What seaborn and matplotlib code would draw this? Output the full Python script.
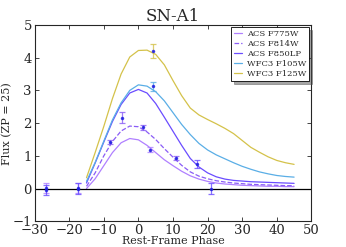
import numpy as np
import pandas as pd
import matplotlib
matplotlib.use("Agg")
import matplotlib.pyplot as plt
from matplotlib.lines import Line2D
import seaborn as sns

# model light curves
phase = [-15, -12.5, -10, -7.5, -5, -2.5, 0, 2.5, 5, 7.5, 10, 12.5, 15,
         17.5, 20, 22.5, 25, 27.5, 30, 32.5, 35, 37.5, 40, 42.5, 45]
f775w = [0.00, 0.30, 0.70, 1.10, 1.40, 1.53, 1.49, 1.32, 1.10, 0.88, 0.70, 0.53, 0.39,
         0.29, 0.22, 0.17, 0.14, 0.12, 0.10, 0.09, 0.08, 0.07, 0.07, 0.06, 0.06]
f814w = [0.07, 0.48, 1.00, 1.44, 1.76, 1.91, 1.89, 1.73, 1.50, 1.22, 0.96, 0.71, 0.51,
         0.38, 0.30, 0.24, 0.20, 0.17, 0.15, 0.13, 0.12, 0.11, 0.10, 0.09, 0.09]
f850lp = [0.17, 0.78, 1.42, 2.05, 2.57, 2.92, 3.03, 2.92, 2.60, 2.18, 1.75, 1.32, 0.92,
          0.66, 0.48, 0.36, 0.29, 0.25, 0.23, 0.21, 0.20, 0.19, 0.18, 0.17, 0.16]
f105w = [0.22, 0.80, 1.45, 2.10, 2.62, 3.00, 3.17, 3.13, 2.96, 2.68, 2.32, 1.96, 1.65,
         1.38, 1.18, 1.03, 0.91, 0.79, 0.68, 0.59, 0.51, 0.45, 0.40, 0.37, 0.35]
f125w = [0.33, 1.10, 1.90, 2.75, 3.50, 4.02, 4.22, 4.23, 4.10, 3.78, 3.30, 2.84, 2.46,
         2.25, 2.11, 1.98, 1.84, 1.68, 1.47, 1.26, 1.11, 0.97, 0.86, 0.79, 0.74]

filters = ["ACS F775W", "ACS F814W", "ACS F850LP", "WFC3 F105W", "WFC3 F125W"]
colors = ["#b080ff", "#8a5cf6", "#6a4cff", "#5aaee6", "#d4c24a"]
styles = ["-", "--", "-", "-", "-"]

# observed photometry
obs_phase = [-26.7, -26.7, -17.6, -17.6, -8.2, -4.7, 1.3, 3.4, 4.1, 4.1, 10.8, 17.0, 21.0]
obs_flux = [0.02, -0.04, 0.01, -0.01, 1.42, 2.17, 1.87, 1.19, 3.12, 4.20, 0.93, 0.76, 0.00]
obs_err = [0.15, 0.16, 0.16, 0.17, 0.05, 0.18, 0.07, 0.08, 0.15, 0.22, 0.07, 0.12, 0.18]
obs_filter = ["ACS F775W", "ACS F850LP", "ACS F775W", "ACS F850LP", "ACS F814W",
              "ACS F814W", "ACS F814W", "ACS F775W", "WFC3 F105W", "WFC3 F125W",
              "ACS F814W", "ACS F850LP", "ACS F850LP"]

sns.set_style("ticks")
plt.rcParams['font.family'] = ['DejaVu Serif']
plt.rcParams['xtick.direction'] = 'in'
plt.rcParams['ytick.direction'] = 'in'
plt.rcParams['xtick.top'] = True
plt.rcParams['ytick.right'] = True

fig = plt.figure(figsize=(3.46, 2.47), dpi=100)
ax = fig.add_axes([0.1, 0.104, 0.8, 0.795])

curves = pd.DataFrame({
    "phase": phase * 5,
    "flux": f775w + f814w + f850lp + f105w + f125w,
    "filter": sum([[f] * len(phase) for f in filters], []),
})
for f, c, ls in zip(filters, colors, styles):
    d = curves[curves["filter"] == f]
    sns.lineplot(data=d, x="phase", y="flux", color=c, linestyle=ls, lw=0.9, ax=ax)

for p, fl, e, f in zip(obs_phase, obs_flux, obs_err, obs_filter):
    c = colors[filters.index(f)]
    ax.errorbar(p, fl, yerr=e, fmt='.', color=c, ecolor=c, ms=3, mfc="#2020e0",
                mec="#2020e0", elinewidth=0.9, capsize=2, capthick=0.9, alpha=0.8)

ax.axhline(0, color="black", lw=0.9)
ax.set_xlim(-30, 50)
ax.set_ylim(-1, 5)
ax.set_xticks(range(-30, 51, 10))
ax.set_yticks(range(-1, 6))
ax.tick_params(labelsize=9.5, length=3, width=0.6, pad=2)
ax.set_xlabel("Rest-Frame Phase", fontsize=8, labelpad=-0.5)
ax.set_ylabel("Flux (ZP = 25)", fontsize=8, labelpad=0)
ax.set_title("SN-A1", fontsize=12, pad=3)
for s in ax.spines.values():
    s.set_linewidth(0.8)

handles = [Line2D([], [], color=c, ls=ls, lw=0.9) for c, ls in zip(colors, styles)]
leg = ax.legend(handles, filters, loc="upper right", fontsize=6, frameon=True,
                shadow=True, fancybox=False, handlelength=1.0, borderpad=0.3,
                labelspacing=0.25, handletextpad=0.6, borderaxespad=0.3)
leg.get_frame().set_edgecolor("black")
leg.get_frame().set_linewidth(0.6)

fig.savefig("out.png", dpi=100)
